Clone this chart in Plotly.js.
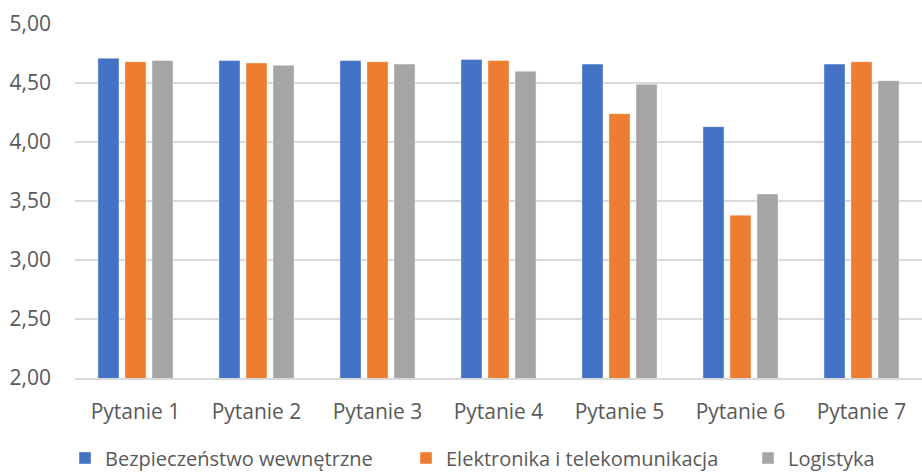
<!DOCTYPE html>
<html>
<head>
<meta charset="utf-8">
<script src="https://cdn.plot.ly/plotly-3.0.1.min.js"></script>
<style>html,body{margin:0;padding:0;background:#fff;}#chart{width:922px;height:472px;}</style>
</head>
<body>
<div id="chart"></div>
<script>
const categories = ["Pytanie 1","Pytanie 2","Pytanie 3","Pytanie 4","Pytanie 5","Pytanie 6","Pytanie 7"];
const seriesNames = ["Bezpieczeństwo wewnętrzne","Elektronika i telekomunikacja","Logistyka"];
const bezpieczenstwo = [4.71, 4.69, 4.69, 4.70, 4.66, 4.13, 4.66];
const elektronika = [4.68, 4.67, 4.68, 4.69, 4.24, 3.38, 4.68];
const logistyka = [4.69, 4.65, 4.66, 4.60, 4.49, 3.56, 4.52];
const colors = ["#4472C4","#ED7D31","#A5A5A5"];
const legendIds = ["legend","legend2","legend3"];
const legendX = [-0.0118, 0.3908, 0.7946];

const allValues = [bezpieczenstwo, elektronika, logistyka];
const traces = allValues.map((vals, i) => ({
  type: "bar",
  name: seriesNames[i],
  x: categories,
  y: vals,
  legend: legendIds[i],
  marker: {color: colors[i], line: {color: "rgba(255,255,255,0.5)", width: 0.8}},
  hoverinfo: "y"
}));

const layout = {
  width: 922, height: 472,
  margin: {l: 75, r: 0, t: 24, b: 94, autoexpand: false},
  paper_bgcolor: "#fff", plot_bgcolor: "#fff",
  font: {family: "Open Sans, sans-serif", color: "#595959", size: 21},
  separators: ",.",
  barmode: "group",
  bargap: 0.33,
  bargroupgap: 0.22,
  showlegend: true,
  xaxis: {type: "category", showgrid: false, showline: true, linecolor: "#d9d9d9", linewidth: 1.5,
          ticks: "", ticklabelstandoff: 14, tickfont: {size: 21, color: "#595959"}},
  yaxis: {range: [2, 5], dtick: 0.5, tick0: 2, tickformat: ".2f", showgrid: true,
          gridcolor: "#d9d9d9", gridwidth: 1.5, zeroline: false, showline: false, ticks: "",
          ticklabelstandoff: 23, tickfont: {size: 21, color: "#595959"}}
};
legendIds.forEach((id, i) => {
  layout[id] = {orientation: "h", x: legendX[i], xanchor: "left", y: -0.226, yanchor: "middle",
                bgcolor: "rgba(0,0,0,0)", font: {size: 20, color: "#595959"}, itemwidth: 30};
});

Plotly.newPlot("chart", traces, layout, {displayModeBar: false, staticPlot: true});
</script>
</body>
</html>
